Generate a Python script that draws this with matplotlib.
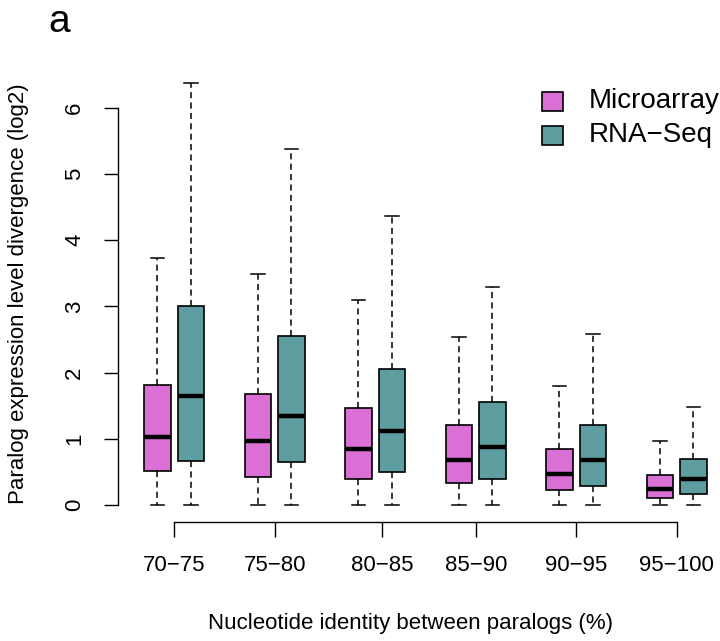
import matplotlib
matplotlib.use("Agg")
import matplotlib.pyplot as plt
from matplotlib.patches import Rectangle

plt.rcParams['font.family'] = ['Liberation Sans', 'DejaVu Sans']

groups = ['70\u221275', '75\u221280', '80\u221285', '85\u221290', '90\u221295', '95\u2212100']

# box statistics (log2 divergence)
micro_lo = [0, 0, 0, 0, 0, 0]
micro_q1 = [0.51, 0.43, 0.40, 0.33, 0.23, 0.11]
micro_med = [1.02, 0.96, 0.85, 0.68, 0.47, 0.24]
micro_q3 = [1.82, 1.68, 1.47, 1.21, 0.85, 0.45]
micro_hi = [3.73, 3.49, 3.09, 2.54, 1.80, 0.96]

rna_lo = [0, 0, 0, 0, 0, 0]
rna_q1 = [0.66, 0.65, 0.50, 0.39, 0.29, 0.17]
rna_med = [1.64, 1.34, 1.12, 0.87, 0.68, 0.39]
rna_q3 = [3.01, 2.55, 2.05, 1.56, 1.21, 0.70]
rna_hi = [6.37, 5.38, 4.37, 3.30, 2.58, 1.48]

micro_pos = [1, 4, 7, 10, 13, 16]
rna_pos = [2, 5, 8, 11, 14, 17]
tick_pos = [1.5, 4.5, 7.7, 10.5, 13.5, 16.5]

micro_col = '#DA70D6'
rna_col = '#5F9EA0'

def stats(lo, q1, med, q3, hi):
    return [dict(whislo=a, q1=b, med=c, q3=d, whishi=e, fliers=[])
            for a, b, c, d, e in zip(lo, q1, med, q3, hi)]

fig = plt.figure(figsize=(7.2, 6.41), dpi=100)
ax = fig.add_axes([117.7 / 720, 1 - 521.9 / 641, 1 - 117.7 / 720, (521.9 - 66.4) / 641])

for st, pos, col in [(stats(micro_lo, micro_q1, micro_med, micro_q3, micro_hi), micro_pos, micro_col),
                     (stats(rna_lo, rna_q1, rna_med, rna_q3, rna_hi), rna_pos, rna_col)]:
    ax.bxp(st, positions=pos, widths=0.8, capwidths=0.4, patch_artist=True,
           showfliers=False,
           boxprops=dict(facecolor=col, edgecolor='black', linewidth=1.2),
           medianprops=dict(color='black', linewidth=3.2, solid_capstyle='butt'),
           whiskerprops=dict(color='black', linewidth=1.1, linestyle=(0, (4, 2.8))),
           capprops=dict(color='black', linewidth=1.1))

ax.set_xlim(1 + (117.7 - 157.5) / 33.5, 1 + (720 - 157.5) / 33.5)
ax.set_ylim(-0.255, 6.625)

for s in ['top', 'right']:
    ax.spines[s].set_visible(False)
ax.spines['bottom'].set_bounds(tick_pos[0], tick_pos[-1])
ax.spines['left'].set_bounds(0, 6)
ax.spines['bottom'].set_linewidth(1.0)
ax.spines['left'].set_linewidth(1.0)

ax.set_xticks(tick_pos)
ax.set_xticklabels(groups, fontsize=16)
ax.set_yticks(range(7))
ax.set_yticklabels([str(i) for i in range(7)], fontsize=16, rotation=90, va='center')
ax.tick_params(axis='x', length=10.8, width=1.0, pad=13)
ax.tick_params(axis='y', length=10.4, width=1.0, pad=13)

fig.text(208 / 720, 1 - 629 / 641, 'Nucleotide identity between paralogs (%)',
         fontsize=16, ha='left', va='baseline')
fig.text(8 / 720, 1 - 294 / 641, 'Paralog expression level divergence (log2)',
         fontsize=16, rotation=90, ha='left', va='center')
fig.text(48 / 720, 1 - 32 / 641, 'a', fontsize=28, ha='left', va='baseline')

# legend
for yc, col, lab in [(101, micro_col, 'Microarray'), (135.5, rna_col, 'RNA\u2212Seq')]:
    fig.add_artist(Rectangle((542 / 720, 1 - (yc + 9.5) / 641), 21 / 720, 19 / 641,
                             transform=fig.transFigure, facecolor=col,
                             edgecolor='black', linewidth=1.2))
    fig.text(589 / 720, 1 - yc / 641, lab, fontsize=20, ha='left', va='center')

fig.savefig('out.png', dpi=100)
